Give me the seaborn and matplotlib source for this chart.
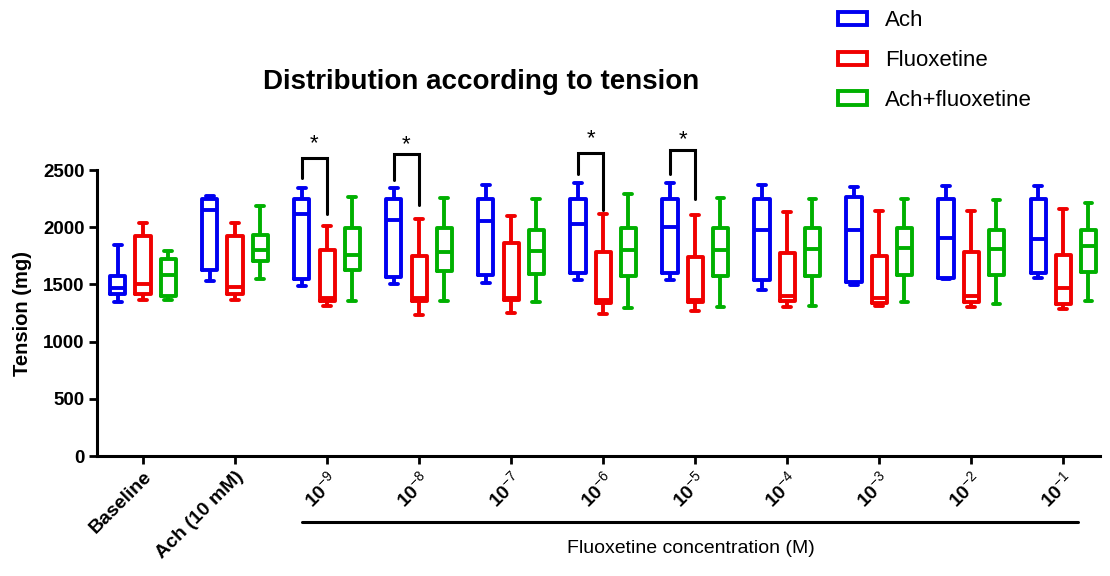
import numpy as np
import pandas as pd
import seaborn as sns
import matplotlib
matplotlib.use("Agg")
from matplotlib import pyplot as plt
from matplotlib.patches import Patch
import matplotlib.transforms as mtransforms

# Groups on the x axis
groups = ["Baseline", "Ach (10 mM)", "1e-9", "1e-8", "1e-7", "1e-6",
          "1e-5", "1e-4", "1e-3", "1e-2", "1e-1"]
tick_labels = ["Baseline", "Ach (10 mM)"] + [
    r"$\mathbf{10}^{-%d}$" % k for k in range(9, 0, -1)]
treatments = ["Ach", "Fluoxetine", "Ach+fluoxetine"]
colors = ["#0000f0", "#f00000", "#00b000"]

# min, q1, median, q3, max for each group
ach = [
    [1349, 1416, 1466, 1570, 1847],
    [1533, 1624, 2147, 2249, 2272],
    [1490, 1548, 2112, 2243, 2339],
    [1504, 1566, 2062, 2243, 2339],
    [1513, 1580, 2053, 2243, 2366],
    [1536, 1601, 2030, 2249, 2383],
    [1542, 1601, 2004, 2249, 2389],
    [1454, 1536, 1980, 2243, 2369],
    [1498, 1519, 1980, 2263, 2351],
    [1548, 1557, 1910, 2245, 2364],
    [1553, 1604, 1895, 2250, 2362],
]
fluoxetine = [
    [1366, 1415, 1500, 1922, 2033],
    [1366, 1415, 1480, 1922, 2033],
    [1308, 1352, 1382, 1805, 2009],
    [1235, 1352, 1382, 1746, 2074],
    [1250, 1362, 1385, 1858, 2097],
    [1244, 1338, 1367, 1781, 2118],
    [1265, 1347, 1367, 1737, 2109],
    [1300, 1352, 1396, 1776, 2132],
    [1308, 1338, 1382, 1752, 2141],
    [1300, 1343, 1396, 1781, 2141],
    [1285, 1333, 1465, 1759, 2160],
]
ach_fluoxetine = [
    [1366, 1402, 1584, 1725, 1788],
    [1548, 1703, 1805, 1934, 2185],
    [1358, 1624, 1761, 1989, 2266],
    [1358, 1615, 1785, 1989, 2254],
    [1343, 1595, 1790, 1980, 2243],
    [1291, 1571, 1799, 1995, 2287],
    [1303, 1571, 1805, 1995, 2254],
    [1308, 1571, 1814, 1989, 2243],
    [1343, 1586, 1820, 1989, 2249],
    [1332, 1580, 1811, 1980, 2237],
    [1358, 1610, 1839, 1978, 2212],
]

# significance brackets (Ach vs Fluoxetine)
sig_groups = [2, 3, 5, 6]
bracket_top = [2605, 2640, 2649, 2675]
bracket_left = [2430, 2413, 2465, 2465]
bracket_right = [2115, 2194, 2150, 2247]
star_y = [2730, 2725, 2770, 2765]

rows = []
for name, series in zip(treatments, [ach, fluoxetine, ach_fluoxetine]):
    for g, vals in zip(groups, series):
        for v in vals:
            rows.append({"group": g, "treatment": name, "tension": v})
df = pd.DataFrame(rows)

sns.set_style("ticks")
plt.rcParams["font.family"] = ["Liberation Sans", "DejaVu Sans"]
plt.rcParams["mathtext.fontset"] = "custom"
plt.rcParams["mathtext.rm"] = "Liberation Sans"
plt.rcParams["mathtext.bf"] = "Liberation Sans:bold"
for key in ["text.color", "axes.labelcolor", "xtick.color", "ytick.color",
            "axes.edgecolor"]:
    plt.rcParams[key] = "black"

fig = plt.figure(figsize=(11.1, 5.76), dpi=100)
ax = fig.add_axes([0.0874, 0.2083, 0.9036, 0.4965])

box_width = 0.82
sns.boxplot(data=df, x="group", y="tension", hue="treatment",
            order=groups, hue_order=treatments, palette=colors,
            fill=False, whis=(0, 100), width=box_width, gap=0.4,
            linewidth=2.8, dodge=True, legend=False, ax=ax)

ax.set_xlim(-0.5, 10.4)
ax.set_ylim(0, 2500)
ax.set_yticks(np.arange(0, 2501, 500))
ax.set_xticks(range(len(groups)))
ax.set_xticklabels(tick_labels, rotation=45, ha="right",
                   rotation_mode="anchor", fontsize=14, fontweight="bold")
for lab in ax.get_yticklabels():
    lab.set_fontsize(13.5)
    lab.set_fontweight("bold")
ax.set_xlabel("")
ax.set_ylabel("Tension (mg)", fontsize=14.5, fontweight="bold", labelpad=8)
sns.despine(ax=ax)
for side in ["left", "bottom"]:
    ax.spines[side].set_linewidth(2.2)
ax.tick_params(width=2, length=6, pad=3)

# brackets with stars
off = box_width / 3
for g, top, lb, rb, sy in zip(sig_groups, bracket_top, bracket_left,
                              bracket_right, star_y):
    ax.plot([g - off, g - off, g, g], [lb, top, top, rb], color="black",
            lw=2.2, clip_on=False, solid_joinstyle="miter")
    ax.text(g - off / 2, sy, "*", ha="center", va="center", fontsize=16)

# concentration bracket under the axis
trans = mtransforms.blended_transform_factory(ax.transData, ax.transAxes)
ax.plot([1.73, 10.16], [-0.231, -0.231], color="black", lw=2.2,
        transform=trans, clip_on=False)
ax.text(5.95, -0.325, "Fluoxetine concentration (M)", transform=trans,
        ha="center", va="center", fontsize=14)

fig.text(481 / 1110, 1 - 82 / 576, "Distribution according to tension",
         ha="center", va="center", fontsize=20, fontweight="bold")

handles = [Patch(facecolor="white", edgecolor=c, lw=2.8) for c in colors]
fig.legend(handles, treatments, loc="upper left",
           bbox_to_anchor=(818 / 1110, 1.017), frameon=False, fontsize=16,
           handlelength=1.3, handleheight=0.55, labelspacing=0.85,
           handletextpad=0.8)

fig.savefig("out.png", dpi=100)
